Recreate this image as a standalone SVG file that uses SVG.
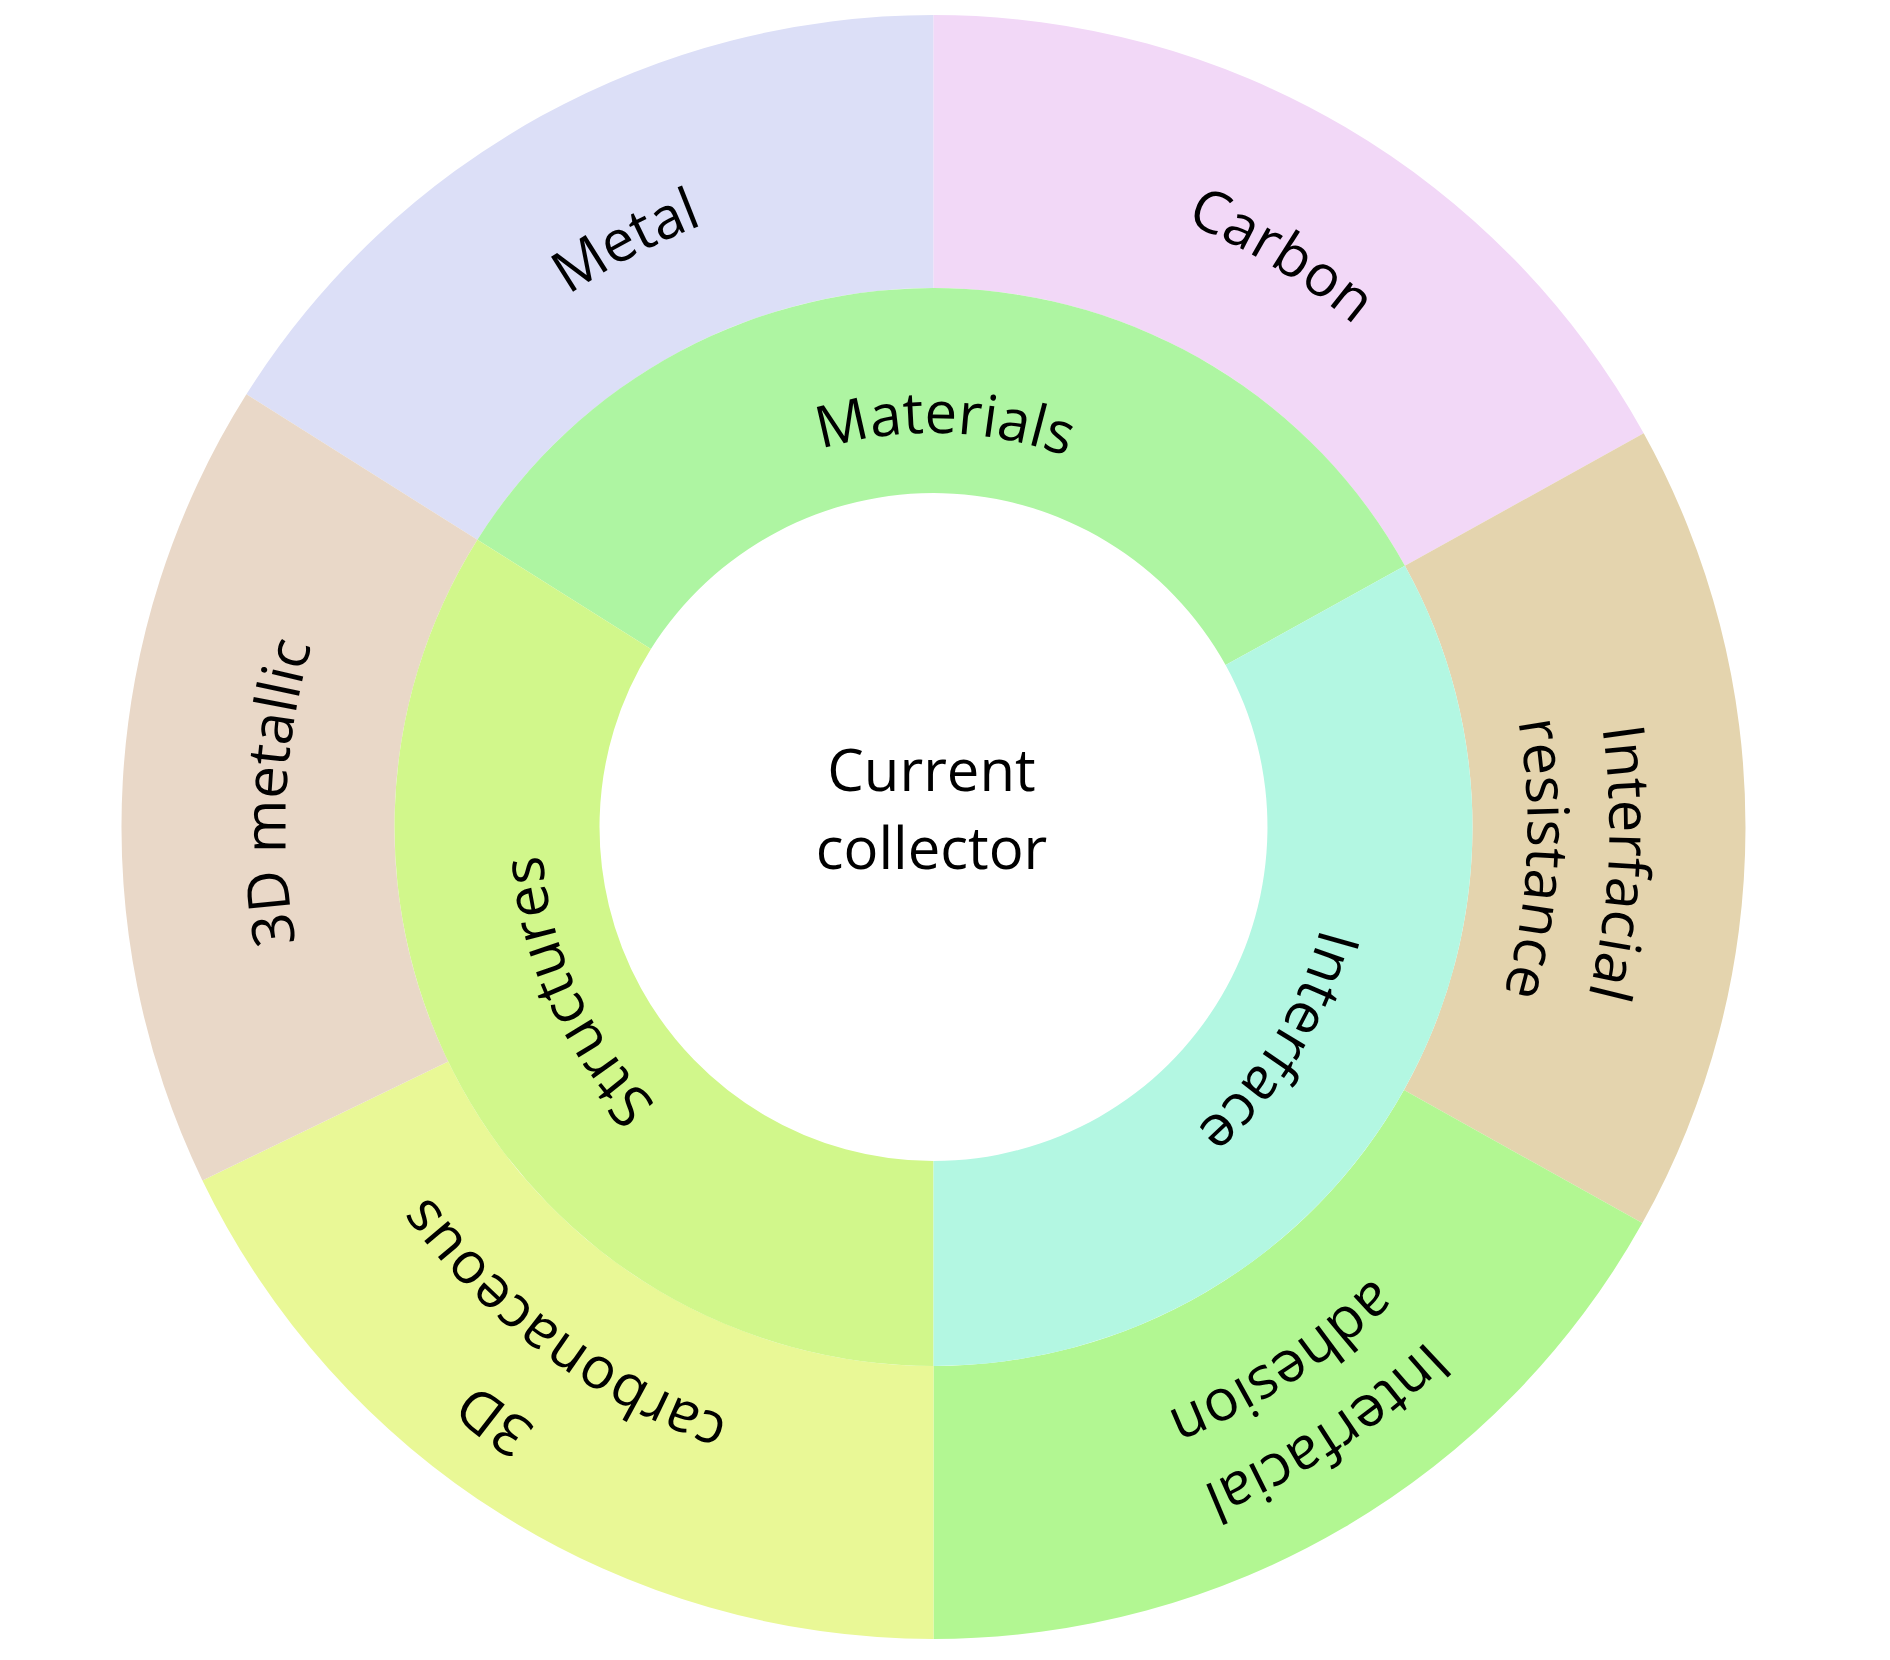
<svg xmlns="http://www.w3.org/2000/svg" width="1890" height="1660" viewBox="0 0 1890 1660">
<style>
.lbl{font-family:"Open Sans","Liberation Sans",sans-serif;fill:#000;font-weight:500;}
.outer{font-size:58px;}
.inner{font-size:58px;}
.seg{stroke:none;}
.in{stroke-width:2.5;}
</style>
<defs>
<path id="pMetal" d="M289.0,801.1 A645,645 0 0 1 1278.2,281.8"/>
<path id="pCarbon" d="M619.0,252.5 A655,655 0 0 1 1588.3,841.9"/>
<path id="p3Dm" d="M580.6,1370.5 A648,648 0 0 1 639.3,249.6"/>
<path id="pIR1" d="M1301.7,260.1 A676,676 0 0 1 1240.4,1429.3"/>
<path id="pIR2" d="M1257.0,328.8 A594,594 0 0 1 1203.2,1356.3"/>
<path id="pIA1" d="M1644.5,789.7 A712,712 0 0 1 610.3,1461.4"/>
<path id="pIA2" d="M1562.6,794.0 A630,630 0 0 1 647.5,1388.3"/>
<path id="p3Dc1" d="M1220.2,1486.4 A719,719 0 0 1 219.1,745.6"/>
<path id="p3Dc2" d="M1182.7,1400.2 A625,625 0 0 1 312.5,756.2"/>
<path id="pMat" d="M597.9,620.6 A394,394 0 0 1 1280.1,639.6"/>
<path id="pStr" d="M895.9,1217.2 A392,392 0 0 1 614.4,599.4"/>
<path id="pInt" d="M1286.0,638.0 A400,400 0 0 1 920.9,1226.8"/>
</defs>
<rect x="0" y="0" width="1890" height="1660" fill="#ffffff"/>

<g id="metal">
<path class="seg" fill="#dcdff7" d="M246.4,394.3 A812,812 0 0 1 933.5,15 L933.5,288 A539,539 0 0 0 477.4,539.8 Z"/>
<text class="lbl outer"><textPath href="#pMetal" startOffset="50%" text-anchor="middle">Metal</textPath></text>
</g>
<g id="carbon">
<path class="seg" fill="#f2d8f7" d="M933.5,15 A812,812 0 0 1 1643.7,433.3 L1404.9,565.7 A539,539 0 0 0 933.5,288 Z"/>
<text class="lbl outer"><textPath href="#pCarbon" startOffset="50%" text-anchor="middle">Carbon</textPath></text>
</g>
<g id="interfacial-resistance">
<path class="seg" fill="#e4d4ae" d="M1643.7,433.3 A812,812 0 0 1 1642.3,1223.1 L1404.0,1090.0 A539,539 0 0 0 1404.9,565.7 Z"/>
<text class="lbl outer"><textPath href="#pIR1" startOffset="50%" text-anchor="middle">Interfacial</textPath></text>
<text class="lbl outer"><textPath href="#pIR2" startOffset="50%" text-anchor="middle">resistance</textPath></text>
</g>
<g id="interfacial-adhesion">
<path class="seg" fill="#b2f792" d="M1642.3,1223.1 A812,812 0 0 1 933.5,1639 L933.5,1366 A539,539 0 0 0 1404.0,1090.0 Z"/>
<text class="lbl outer"><textPath href="#pIA1" startOffset="50%" text-anchor="middle">Interfacial</textPath></text>
<text class="lbl outer"><textPath href="#pIA2" startOffset="50%" text-anchor="middle">adhesion</textPath></text>
</g>
<g id="carbonaceous-3d">
<path class="seg" fill="#e9f896" d="M933.5,1639 A812,812 0 0 1 202.4,1180.4 L448.2,1061.6 A539,539 0 0 0 933.5,1366 Z"/>
<text class="lbl outer"><textPath href="#p3Dc1" startOffset="50%" text-anchor="middle">3D</textPath></text>
<text class="lbl outer"><textPath href="#p3Dc2" startOffset="50%" text-anchor="middle">carbonaceous</textPath></text>
</g>
<g id="metallic-3d">
<path class="seg" fill="#e9d8c8" d="M202.4,1180.4 A812,812 0 0 1 246.4,394.3 L477.4,539.8 A539,539 0 0 0 448.2,1061.6 Z"/>
<text class="lbl outer"><textPath href="#p3Dm" startOffset="50%" text-anchor="middle">3D metallic</textPath></text>
</g>

<g id="materials">
<path class="seg in" fill="#aef5a2" stroke="#9ce6a8" d="M477.4,539.8 A539,539 0 0 1 1404.9,565.7 L1225.6,665.1 A334,334 0 0 0 650.9,649.0 Z"/>
<text class="lbl inner"><textPath href="#pMat" startOffset="50%" text-anchor="middle">Materials</textPath></text>
</g>
<g id="structures">
<path class="seg in" fill="#d1f78b" stroke="#bdef66" d="M933.5,1366 A539,539 0 0 1 477.4,539.8 L650.9,649.0 A334,334 0 0 0 933.5,1161 Z"/>
<text class="lbl inner"><textPath href="#pStr" startOffset="50%" text-anchor="middle">Structures</textPath></text>
</g>
<g id="interface">
<path class="seg in" fill="#b3f7e2" stroke="#a2eccb" d="M1404.9,565.7 A539,539 0 0 1 933.5,1366 L933.5,1161 A334,334 0 0 0 1225.6,665.1 Z"/>
<text class="lbl inner"><textPath href="#pInt" startOffset="50%" text-anchor="middle">Interface</textPath></text>
</g>

<g id="current-collector">
<circle cx="933.5" cy="827" r="333" fill="#ffffff"/>
<text class="lbl inner" x="931.5" y="791" text-anchor="middle">Current</text>
<text class="lbl inner" x="931.5" y="869" text-anchor="middle">collector</text>
</g>
</svg>
